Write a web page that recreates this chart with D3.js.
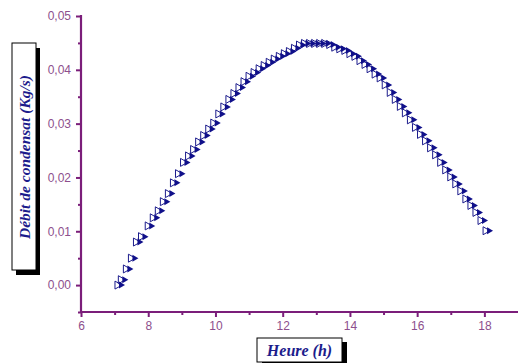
<!DOCTYPE html>
<html>
<head>
<meta charset="utf-8">
<script src="https://cdn.jsdelivr.net/npm/d3@7"></script>
<style>
  body { margin: 0; background: #fff; }
  svg { display: block; }
  .tick-lbl { font-family: "Liberation Sans", Arial, sans-serif; font-size: 12px; fill: #8d4f8d; }
  .axis-title { font-family: "Liberation Serif", "Times New Roman", serif; font-weight: bold; font-style: italic; fill: #1c1c8c; }
</style>
</head>
<body>
<svg id="chart" width="518" height="363"></svg>
<script>
// heure (h)
var hours = [7.10, 7.20, 7.35, 7.50, 7.65, 7.80, 8.00, 8.15, 8.30, 8.45, 8.60, 8.75, 8.90,
             9.05, 9.20, 9.35, 9.50, 9.65, 9.80, 9.95, 10.10, 10.25, 10.40, 10.55, 10.70,
             10.85, 11.00, 11.15, 11.30, 11.45, 11.60, 11.75, 11.90, 12.05, 12.20, 12.35,
             12.50, 12.65, 12.80, 12.95, 13.10, 13.25, 13.40, 13.55, 13.70, 13.85, 14.00,
             14.15, 14.30, 14.45, 14.60, 14.75, 14.90, 15.05, 15.20, 15.35, 15.50, 15.65,
             15.80, 15.95, 16.10, 16.25, 16.40, 16.55, 16.70, 16.85, 17.00, 17.15, 17.30,
             17.45, 17.60, 17.75, 17.90, 18.05]
// debit de condensat (kg/s)
var debit = [0.0000, 0.0010, 0.0030, 0.0050, 0.0080, 0.0090, 0.0110, 0.0125, 0.0138, 0.0155,
             0.0170, 0.0190, 0.0207, 0.0228, 0.0240, 0.0252, 0.0266, 0.0278, 0.0290, 0.0301,
             0.0318, 0.0331, 0.0345, 0.0356, 0.0367, 0.0378, 0.0388, 0.0395, 0.0402, 0.0408,
             0.0414, 0.0420, 0.0425, 0.0430, 0.0434, 0.0440, 0.0446, 0.0449, 0.0449, 0.0449,
             0.0449, 0.0449, 0.0447, 0.0442, 0.0439, 0.0436, 0.0430, 0.0425, 0.0417, 0.0410,
             0.0402, 0.0392, 0.0385, 0.0372, 0.0358, 0.0345, 0.0332, 0.0320, 0.0307, 0.0293,
             0.0280, 0.0268, 0.0255, 0.0242, 0.0228, 0.0214, 0.0201, 0.0188, 0.0175, 0.0160,
             0.0148, 0.0135, 0.0120, 0.0101]
var xTicks = [6, 8, 10, 12, 14, 16, 18]
var yTicks = [0, 0.01, 0.02, 0.03, 0.04, 0.05]

var svg = d3.select('#chart')
var axisColor = '#7b1e7a'

var x = d3.scaleLinear().domain([6, 19]).range([81, 518])
var y = d3.scaleLinear().domain([-0.005, 0.05]).range([312, 16])

var fmt = function(d) { return d3.format('.2f')(d).replace('.', ',') }

// left axis
var gy = svg.append('g').attr('transform', 'translate(81,0)')
gy.call(d3.axisLeft(y).tickValues(yTicks).tickSize(5).tickPadding(5).tickFormat(fmt))
gy.append('g').call(d3.axisLeft(y).tickValues([0.005, 0.015, 0.025, 0.035, 0.045, -0.005]).tickSize(3).tickFormat(''))
gy.selectAll('.domain').remove()
gy.append('line').attr('x1', 0).attr('x2', 0).attr('y1', y(0.05) - 1).attr('y2', 313)
  .attr('stroke', axisColor).attr('stroke-width', 2.2)

// bottom axis
var gx = svg.append('g').attr('transform', 'translate(0,312)')
gx.call(d3.axisBottom(x).tickValues(xTicks).tickSize(5).tickPadding(4).tickFormat(d3.format('d')))
gx.append('g').call(d3.axisBottom(x).tickValues([7, 9, 11, 13, 15, 17]).tickSize(3).tickFormat(''))
gx.selectAll('.domain').remove()
gx.append('line').attr('x1', 80).attr('x2', 518).attr('y1', 0).attr('y2', 0)
  .attr('stroke', axisColor).attr('stroke-width', 2.2)

svg.selectAll('.tick line').attr('stroke', axisColor).attr('stroke-width', 2)
svg.selectAll('.tick text').attr('class', 'tick-lbl').attr('fill', null)

// markers: open right triangle + filled right triangle
var tri = 'M-3,-4 L4,0 L-3,4 Z'
var pts = svg.append('g')
pts.selectAll('path.open')
  .data(hours)
  .enter()
  .append('path')
  .attr('class', 'open')
  .attr('d', tri)
  .attr('transform', function(d, i) { return 'translate(' + x(d) + ',' + y(debit[i]) + ')' })
  .attr('fill', '#fff')
  .attr('stroke', '#1c1c8c')
  .attr('stroke-width', 1)
pts.selectAll('path.full')
  .data(hours)
  .enter()
  .append('path')
  .attr('class', 'full')
  .attr('d', 'M-2,-3.5 L4,0 L-2,3.5 Z')
  .attr('transform', function(d, i) { return 'translate(' + (x(d) + 3) + ',' + y(debit[i]) + ')' })
  .attr('fill', '#10108a')

// y title box
svg.append('rect').attr('x', 16).attr('y', 48).attr('width', 24).attr('height', 227).attr('fill', '#000')
svg.append('rect').attr('x', 12).attr('y', 43).attr('width', 24).attr('height', 227)
  .attr('fill', '#fff').attr('stroke', '#000').attr('stroke-width', 1)
svg.append('text').attr('class', 'axis-title')
  .attr('transform', 'translate(29.5,157) rotate(-90)')
  .attr('text-anchor', 'middle')
  .style('font-size', '15.5px')
  .text('Débit de condensat (Kg/s)')

// x title box
svg.append('rect').attr('x', 262).attr('y', 342).attr('width', 85).attr('height', 24).attr('fill', '#000')
svg.append('rect').attr('x', 257).attr('y', 338).attr('width', 85).attr('height', 24)
  .attr('fill', '#fff').attr('stroke', '#000').attr('stroke-width', 1)
svg.append('text').attr('class', 'axis-title')
  .attr('x', 299.5).attr('y', 355.5)
  .attr('text-anchor', 'middle')
  .style('font-size', '16px')
  .text('Heure (h)')
</script>
</body>
</html>
